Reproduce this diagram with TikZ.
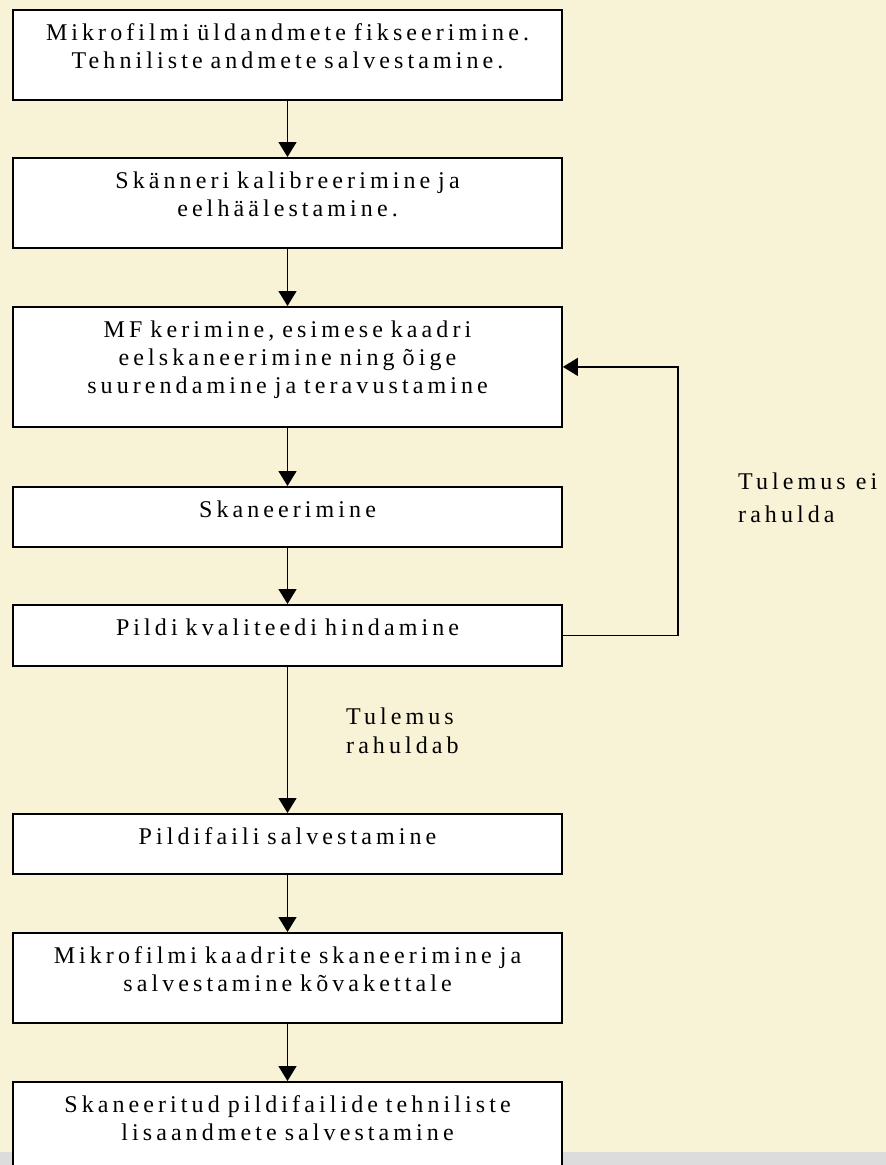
\documentclass[tikz,border=0pt]{standalone}
\usepackage{fontspec}
\newfontfamily\lsfont{Liberation Serif}[LetterSpace=17]
\usepackage{tikz}
\usetikzlibrary{arrows.meta,calc}
\definecolor{cream}{RGB}{248,243,214}
\definecolor{strip}{RGB}{220,220,220}
\tikzset{box/.style={draw,fill=white,line width=1.8pt,anchor=north,text width=549pt,align=center,inner xsep=0pt,inner ysep=0pt,text height=31pt,font=\lsfont\fontsize{24}{28}\selectfont},
  lbl/.style={anchor=north west,inner sep=0pt,align=left,font=\lsfont\fontsize{24}{33}\selectfont},
  arr/.style={line width=1.5pt,-{Triangle[length=15pt,width=18pt]}}}

\begin{document}
\begin{tikzpicture}[x=1pt,y=-1pt]
  \clip (0,0) rectangle (886,1165);
  \fill[cream] (0,0) rectangle (886,1152);\fill[strip] (0,1152) rectangle (886,1165);
  \node[box,text depth=59pt] (b1) at (287.5,9) {Mikrofilmi üldandmete fikseerimine.\\Tehniliste andmete salvestamine.};
  \node[box,text depth=59pt] (b2) at (287.5,157) {Skänneri kalibreerimine ja\\eelhäälestamine.};
  \node[box,text depth=89pt] (b3) at (287.5,306) {MF kerimine, esimese kaadri\\eelskaneerimine ning õige\\suurendamine ja teravustamine};
  \node[box,text depth=29pt] (b4) at (287.5,486) {Skaneerimine};
  \node[box,text depth=30pt] (b5) at (287.5,604) {Pildi kvaliteedi hindamine};
  \node[box,text depth=29pt] (b6) at (287.5,813) {Pildifaili salvestamine};
  \node[box,text depth=59pt] (b7) at (287.5,932) {Mikrofilmi kaadrite skaneerimine ja\\salvestamine kõvakettale};
  \node[box,text depth=80pt] (b8) at (287.5,1081) {Skaneeritud pildifailide tehniliste\\lisaandmete salvestamine};
  \node[lbl,font=\lsfont\fontsize{24}{29}\selectfont] (ok) at (346,707.5) {Tulemus\\rahuldab};
  \node[lbl] (notok) at (738,473) {Tulemus ei\\rahulda};
  \coordinate (fb) at (678,500);
  \foreach \a/\b in {b1/b2,b2/b3,b3/b4,b4/b5,b5/b6,b6/b7,b7/b8}
    \draw[arr] (\a) -- (\b);
  \draw[arr] (b5.east) -| (fb) |- (b3.east);
\end{tikzpicture}
\end{document}
